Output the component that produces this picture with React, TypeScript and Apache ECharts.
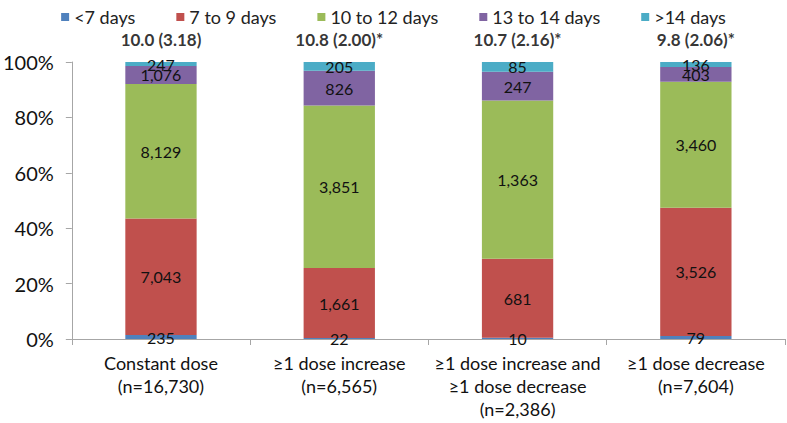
import React, { useEffect, useRef } from "react";
import * as echarts from "echarts";

const categories = [
  "Constant dose\n(n=16,730)",
  "≥1 dose increase\n(n=6,565)",
  "≥1 dose increase and\n≥1 dose decrease\n(n=2,386)",
  "≥1 dose decrease\n(n=7,604)",
];
const seriesNames = ["<7 days", "7 to 9 days", "10 to 12 days", "13 to 14 days", ">14 days"];
const lt7 = [235, 22, 10, 79];
const d7to9 = [7043, 1661, 681, 3526];
const d10to12 = [8129, 3851, 1363, 3460];
const d13to14 = [1076, 826, 247, 403];
const gt14 = [247, 205, 85, 136];
const topLabels = ["10.0 (3.18)", "10.8 (2.00)*", "10.7 (2.16)*", "9.8 (2.06)*"];
const colors = ["#4f81bd", "#c0504d", "#9bbb59", "#8064a2", "#4bacc6"];

const FONT = "Lato, 'Open Sans', sans-serif";

export default function App() {
  const ref = useRef<HTMLDivElement>(null);
  useEffect(() => {
    if (!ref.current) return;
    const chart = echarts.init(ref.current, null, { renderer: "svg" });
    const all = [lt7, d7to9, d10to12, d13to14, gt14];
    const totals = categories.map((_, i) => all.reduce((s, a) => s + a[i], 0));
    const series: any[] = all.map((arr, k) => ({
      name: seriesNames[k],
      type: "bar",
      stack: "total",
      barWidth: "40%",
      itemStyle: { color: colors[k] },
      data: arr.map((v, i) => (v / totals[i]) * 100),
      label: {
        show: true,
        position: "inside",
        color: "#111",
        fontSize: 16,
        fontFamily: FONT,
        formatter: (p: any) => arr[p.dataIndex].toLocaleString("en-US"),
      },
    }));
    series.push({
      name: "top",
      type: "scatter",
      symbolSize: 0,
      silent: true,
      data: categories.map(() => 100),
      label: {
        show: true,
        position: "top",
        distance: 14,
        fontWeight: "bold",
        fontSize: 17,
        color: "#000",
        fontFamily: FONT,
        formatter: (p: any) => topLabels[p.dataIndex],
      },
    });
    chart.setOption({
      animation: false,
      textStyle: { fontFamily: FONT },
      legend: {
        data: seriesNames,
        top: 3,
        left: "center",
        itemWidth: 8,
        itemHeight: 8,
        itemGap: 41,
        icon: "rect",
        textStyle: { fontSize: 18, color: "#222", fontFamily: FONT },
      },
      grid: { left: 69, right: 2, top: 62, bottom: 84 },
      xAxis: {
        type: "category",
        data: categories,
        axisLine: { lineStyle: { color: "#a6a6a6" } },
        axisTick: { show: true, length: 6, lineStyle: { color: "#a6a6a6" } },
        axisLabel: {
          fontSize: 18,
          color: "#111",
          lineHeight: 23,
          margin: 12,
          interval: 0,
          fontFamily: FONT,
        },
      },
      yAxis: {
        type: "value",
        min: 0,
        max: 100,
        interval: 20,
        axisLine: { show: true, lineStyle: { color: "#a6a6a6" } },
        axisTick: { show: true, length: 6, lineStyle: { color: "#a6a6a6" } },
        splitLine: { show: false },
        axisLabel: {
          formatter: "{value}%",
          fontSize: 20,
          color: "#111",
          margin: 18,
          fontFamily: FONT,
        },
      },
      series,
    });
    return () => chart.dispose();
  }, []);
  return (
    <div
      ref={ref}
      style={{ position: "absolute", left: 0, top: 0, width: 787, height: 423 }}
    />
  );
}
